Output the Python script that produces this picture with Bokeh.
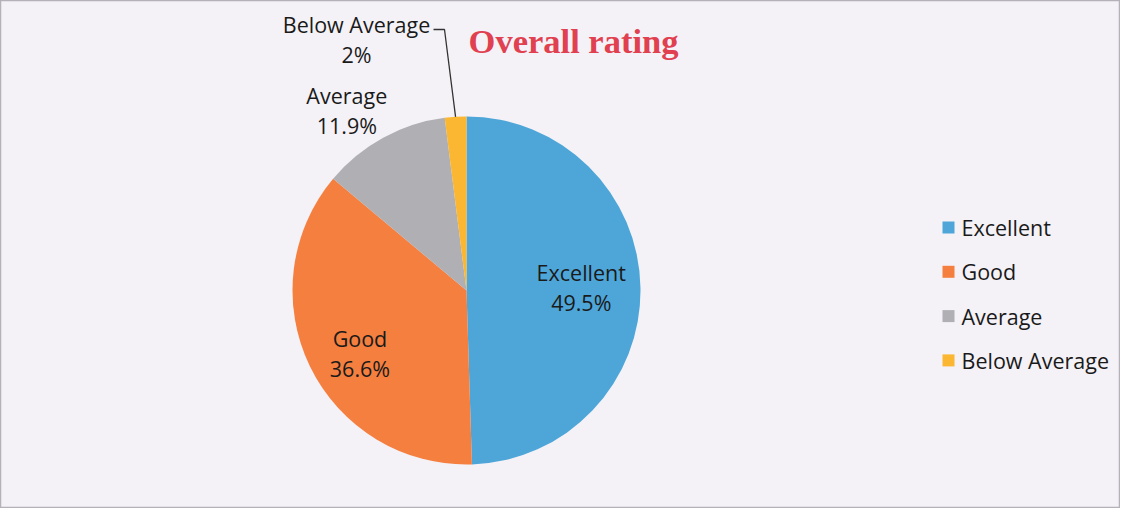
import numpy as np
from bokeh.plotting import figure
from bokeh.embed import file_html
from bokeh.resources import INLINE
from bokeh.core.properties import value
from bokeh.models import ColumnDataSource

# ---- data ----
categories = ["Excellent", "Good", "Average", "Below Average"]
percents = [49.5, 36.6, 11.9, 2.0]
pct_labels = ["49.5%", "36.6%", "11.9%", "2%"]
colors = ["#4ea6d8", "#f57f3f", "#b0afb4", "#fbb731"]
title_text = "Overall rating"

W, H = 1120, 508
BG = "#f4f2f7"
FONT = "Open Sans"
FS = "21.5px"

p = figure(width=W, height=H, x_range=(0, W), y_range=(0, H),
           output_backend="svg", toolbar_location=None, min_border=0,
           background_fill_color=BG, border_fill_color=BG)
p.axis.visible = False
p.grid.visible = False
p.outline_line_color = "#b4b2b8"
p.outline_line_width = 1.5

# pie geometry (screen px -> data)
cx, cy, r = 466, 218, 174
vals = np.array(percents)
frac = vals / vals.sum()
cum = np.concatenate([[0], np.cumsum(frac)])
start = np.pi / 2 - 2 * np.pi * cum[1:]
end = np.pi / 2 - 2 * np.pi * cum[:-1]
mid = (start + end) / 2

src = ColumnDataSource(dict(start=start, end=end, color=colors, cat=categories))
p.wedge(x=cx, y=cy, radius=r, start_angle="start", end_angle="end",
        fill_color="color", line_color=None, source=src)

TXT = "#1a1a1a"

def two_line(x, y, a, b):
    p.text(x=[x], y=[y + 15], text=[a], text_font=value(FONT), text_font_size=FS,
           text_align="center", text_baseline="middle", text_color=TXT)
    p.text(x=[x], y=[y - 15], text=[b], text_font=value(FONT), text_font_size=FS,
           text_align="center", text_baseline="middle", text_color=TXT)

# inside labels
lx = cx + 0.70 * r * np.cos(mid[0]) - 7
ly = cy + 0.70 * r * np.sin(mid[0]) + 1
two_line(lx, ly, categories[0], pct_labels[0])

lx = cx + 0.70 * r * np.cos(mid[1]) + 3
ly = cy + 0.70 * r * np.sin(mid[1]) - 10
two_line(lx, ly, categories[1], pct_labels[1])

# outside labels
ax = cx + 1.22 * r * np.cos(mid[2]) - 18
ay = cy + 1.22 * r * np.sin(mid[2]) - 6
two_line(ax, ay, categories[2], pct_labels[2])

bx, by = cx - 110, cy + 251
two_line(bx, by, categories[3], pct_labels[3])

# leader line for Below Average
ex = cx + r * np.cos(mid[3])
ey = cy + r * np.sin(mid[3])
p.line(x=[bx + 77, bx + 88, ex], y=[by + 10, by + 10, ey], line_color="#333333", line_width=1.3)

# title
p.text(x=[573], y=[468], text=[title_text], text_font=value("Liberation Serif"),
       text_font_style="bold", text_font_size="34.5px", text_color="#e0404f",
       text_align="center", text_baseline="middle")

# legend (manual)
lx0, ly0, step = 948, 281, 44.3
ys = [ly0 - i * step for i in range(len(categories))]
p.scatter(x=[lx0] * len(categories), y=ys, marker="square", size=12,
          fill_color=colors, line_color=None)
p.text(x=[lx0 + 13] * len(categories), y=ys, text=categories, text_font=value(FONT),
       text_font_size=FS, text_baseline="middle", text_align="left", text_color=TXT)

open("out.html", "w").write(file_html(p, INLINE))
